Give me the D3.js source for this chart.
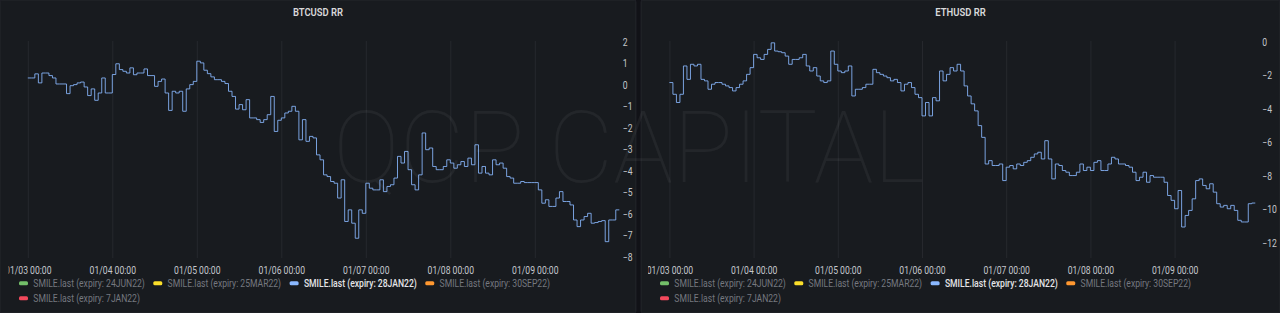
<!DOCTYPE html>
<html>
<head>
<meta charset="utf-8">
<script src="https://cdn.jsdelivr.net/npm/d3@7"></script>
<style>
  body { margin: 0; background: #111217; overflow: hidden; }
  svg { display: block; }
  text { font-family: Roboto, "Noto Sans", sans-serif; }
</style>
</head>
<body>
<div id="chart"></div>
<script>
// hourly RR readings, first one at 01/03 00:00
const hourStart = new Date(2022, 0, 3, 0, 0);

const btcValues = [0.34,0.34,0.53,0.11,0.57,0.57,0.45,0.34,0.06,0.06,0.06,-0.39,-0.02,0.03,0.11,0.15,
  -0.08,-0.48,-0.17,-0.7,-0.36,0.34,-0.36,-0.36,0.5,1.0,0.73,0.65,0.57,0.81,0.49,0.57,
  0.57,0.76,0.45,0.45,-0.05,0.18,0.29,-0.36,-1.17,-0.28,-0.36,-0.28,-1.21,-0.17,0.03,0.18,
  1.12,1.04,0.7,0.54,0.39,0.26,0.26,0.18,0.08,-0.28,-0.52,-1.11,-0.9,-1.14,-0.67,-1.52,
  -1.52,-1.6,-1.73,-1.6,-1.37,-0.52,-2.15,-1.63,-1.52,-1.29,-1.21,-0.98,-1.21,-2.54,-1.6,-2.61,
  -2.38,-2.45,-3.24,-3.47,-4.17,-4.25,-4.48,-4.56,-5.25,-4.4,-6.34,-5.8,-6.42,-7.12,-5.8,-5.96,
  -4.56,-4.79,-4.87,-4.87,-4.4,-4.95,-4.71,-4.63,-4.32,-3.31,-3.62,-3.08,-3.93,-4.63,-4.87,-4.17,
  -2.22,-3.0,-2.92,-3.78,-3.93,-3.93,-3.78,-3.47,-3.62,-3.86,-3.7,-3.55,-3.78,-3.39,-3.7,-2.77,
  -4.09,-3.78,-4.09,-4.17,-3.47,-3.7,-3.62,-3.86,-4.25,-4.32,-4.56,-4.56,-4.48,-4.53,-4.53,-4.53,
  -4.53,-4.87,-5.49,-5.33,-5.64,-5.64,-5.25,-4.95,-5.41,-5.41,-5.57,-6.27,-6.58,-6.27,-6.11,-5.96,
  -6.42,-6.39,-6.34,-6.3,-7.28,-6.27,-6.27,-5.8];

const ethValues = [-2.43,-3.13,-3.62,-3.13,-1.44,-2.24,-1.34,-1.44,-1.34,-2.24,-2.33,-2.83,-2.53,-2.43,-2.43,-2.53,
  -2.63,-2.73,-2.93,-2.73,-2.53,-2.33,-1.94,-1.54,-0.75,-0.95,-1.05,-0.75,-0.45,-0.06,-0.55,-0.59,
  -0.65,-0.85,-1.34,-1.05,-1.05,-0.95,-0.75,-1.44,-1.74,-1.54,-2.04,-2.33,-2.43,-2.33,-0.55,-1.34,
  -1.74,-1.84,-1.74,-1.44,-3.23,-2.83,-2.83,-2.73,-2.53,-2.53,-1.64,-1.84,-1.94,-2.04,-2.14,-2.33,
  -2.24,-2.43,-2.93,-2.53,-2.43,-2.73,-3.13,-3.33,-4.42,-3.62,-4.42,-3.33,-3.52,-1.74,-2.33,-1.94,
  -1.54,-1.74,-1.34,-1.74,-2.63,-3.23,-3.7,-4.12,-5.0,-5.7,-7.29,-7.09,-7.38,-7.38,-7.29,-8.28,
  -7.48,-7.38,-7.58,-7.29,-7.38,-7.19,-7.09,-6.89,-6.69,-6.59,-6.99,-5.9,-6.99,-8.18,-7.29,-7.38,
  -7.68,-7.78,-7.98,-7.98,-7.78,-7.29,-7.68,-7.48,-7.68,-7.19,-7.09,-7.68,-7.68,-7.29,-6.89,-6.99,
  -7.29,-7.29,-7.38,-7.48,-7.78,-8.28,-8.08,-7.78,-8.38,-7.98,-8.08,-8.08,-8.08,-8.38,-9.17,-9.46,
  -9.96,-8.87,-11.05,-10.36,-10.06,-9.37,-8.28,-8.18,-8.57,-8.77,-8.47,-8.97,-9.66,-9.86,-9.76,-9.96,
  -9.76,-10.06,-10.65,-10.75,-10.75,-9.66,-9.62];

// axis ticks
const dayTicks = [3, 4, 5, 6, 7, 8, 9].map(d => new Date(2022, 0, d, 0, 0));
const btcTicks = [2, 1, 0, -1, -2, -3, -4, -5, -6, -7, -8];
const ethTicks = [0, -2, -4, -6, -8, -10, -12];

// legend
const legendNames = ["SMILE.last (expiry: 24JUN22)", "SMILE.last (expiry: 25MAR22)", "SMILE.last (expiry: 28JAN22)",
  "SMILE.last (expiry: 30SEP22)", "SMILE.last (expiry: 7JAN22)"];
const legendColors = ["#73bf69", "#fade2a", "#8ab8ff", "#ff9830", "#f2495c"];
const shownSeries = "SMILE.last (expiry: 28JAN22)";

// text in the screenshot is a bit narrow
const squeeze = 0.86;
const fmtTick = d3.timeFormat("%m/%d %H:%M");

var panels = [
  { title: "BTCUSD RR", left: 0, width: 636, values: btcValues, ticks: btcTicks,
    xStart: 27.8, xEnd: 619.3, yDomain: [-8.04, 2.06], clipX: 8.5 },
  { title: "ETHUSD RR", left: 641, width: 639, values: ethValues, ticks: ethTicks,
    xStart: 28.4, xEnd: 617.8, yDomain: [-12.9, 0.05], clipX: 7 }
];

const W = 1280, H = 313;
const plotTop = 41, plotBottom = 258;

var svg = d3.select("#chart").append("svg")
  .attr("width", W)
  .attr("height", H);

var defs = svg.append("defs");

panels.forEach(function (p, pi) {
  var g = svg.append("g").attr("transform", "translate(" + p.left + ",0)");

  g.append("rect")
    .attr("width", p.width).attr("height", H)
    .attr("rx", 2)
    .attr("fill", "#181b1f")
    .attr("stroke", "rgba(204,204,220,0.07)");

  defs.append("clipPath").attr("id", "clip" + pi)
    .append("rect").attr("x", p.clipX).attr("y", 0).attr("width", p.width - p.clipX).attr("height", H);

  // title
  g.append("text")
    .attr("transform", "translate(" + (p.width / 2) + ",16) scale(" + squeeze + ",1)")
    .attr("text-anchor", "middle")
    .attr("font-size", 11)
    .attr("font-weight", 600)
    .attr("fill", "#d8d9da")
    .text(p.title);

  var x = d3.scaleTime()
    .domain([hourStart, d3.timeDay.offset(hourStart, 7)])
    .range([p.xStart, p.xEnd]);

  var y = d3.scaleLinear()
    .domain(p.yDomain)
    .range([plotBottom, plotTop]);

  var body = g.append("g").attr("clip-path", "url(#clip" + pi + ")");

  // vertical grid
  body.append("g")
    .attr("transform", "translate(0," + plotBottom + ")")
    .call(d3.axisBottom(x).tickValues(dayTicks).tickSize(-(plotBottom - plotTop)).tickFormat(""))
    .call(a => a.select(".domain").remove())
    .selectAll("line").attr("stroke", "rgba(204,204,220,0.08)");

  // x labels
  var xa = body.append("g")
    .attr("transform", "translate(0," + plotBottom + ")")
    .call(d3.axisBottom(x).tickValues(dayTicks).tickSize(0).tickPadding(8.5).tickFormat(fmtTick));
  xa.select(".domain").remove();
  xa.selectAll("text")
    .attr("font-size", 10)
    .attr("font-family", "Roboto")
    .attr("fill", "#c4c7cc")
    .attr("transform", "scale(" + squeeze + ",1)");

  // y labels on the right
  var ya = g.append("g")
    .attr("transform", "translate(" + (p.xEnd + 3.5) + ",0)")
    .call(d3.axisRight(y).tickValues(p.ticks).tickSize(0).tickPadding(0));
  ya.select(".domain").remove();
  ya.selectAll("text")
    .attr("font-size", 10)
    .attr("font-family", "Roboto")
    .attr("fill", "#c4c7cc")
    .attr("transform", "scale(" + squeeze + ",1)");

  // step line, last reading held for one hour
  var pts = p.values.map((v, i) => [d3.timeHour.offset(hourStart, i), v]);
  pts.push([d3.timeHour.offset(hourStart, p.values.length), p.values[p.values.length - 1]]);

  body.append("path")
    .datum(pts)
    .attr("fill", "none")
    .attr("stroke", "#8ab8ff")
    .attr("stroke-opacity", 0.85)
    .attr("stroke-width", 1)
    .attr("d", d3.line()
      .curve(d3.curveStepAfter)
      .x(d => x(d[0]))
      .y(d => y(d[1])));

  // legend, wraps when the row is full
  var lx = 19, row = 0;
  legendNames.forEach(function (name, i) {
    var on = name === shownSeries;
    var item = g.append("g");
    item.append("rect")
      .attr("x", 0).attr("y", -2)
      .attr("width", 9).attr("height", 4)
      .attr("rx", 1.5)
      .attr("fill", legendColors[i]);
    var t = item.append("text")
      .attr("transform", "translate(14.3,3.5) scale(" + squeeze + ",1)")
      .attr("font-size", 10)
      .attr("font-weight", on ? 500 : 400)
      .attr("fill", on ? "#e4e5e8" : "#75787f")
      .text(name);
    var iw = 14.3 + t.node().getComputedTextLength() * squeeze;
    if (i > 0 && lx + iw > p.width - 10) { lx = 19; row++; }
    item.attr("transform", "translate(" + lx + "," + (283.3 + row * 15) + ")");
    lx += iw + 8.5;
  });
});

// watermark over everything
svg.append("text")
  .attr("x", 333)
  .attr("y", 182)
  .attr("font-size", 100)
  .attr("font-weight", 100)
  .attr("textLength", 592)
  .attr("lengthAdjust", "spacingAndGlyphs")
  .attr("fill", "rgba(255,255,255,0.05)")
  .text("QCP CAPITAL");
</script>
</body>
</html>
